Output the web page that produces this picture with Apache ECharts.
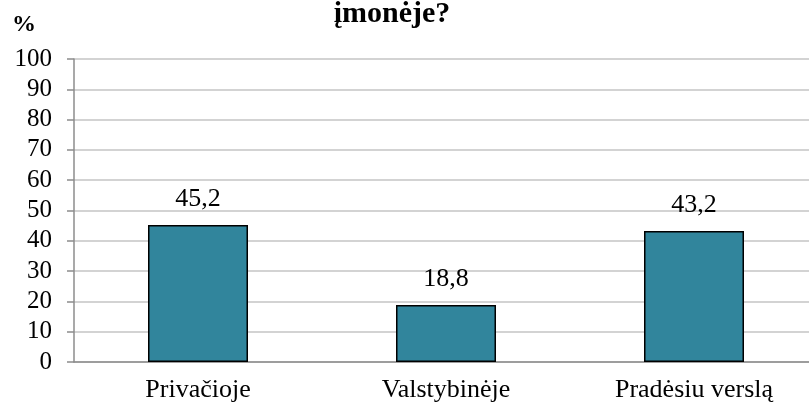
<!DOCTYPE html>
<html>
<head>
<meta charset="utf-8">
<script src="https://cdn.jsdelivr.net/npm/echarts@6/dist/echarts.min.js"></script>
<style>
    html, body { margin: 0; padding: 0; background: #fff; }
    #chart { width: 809px; height: 410px; }
</style>
</head>
<body>
<div id="chart"></div>
<script>
// duomenys
var categories = ['Privačioje', 'Valstybinėje', 'Pradėsiu verslą'];
var values = [45.2, 18.8, 43.2];
var yTicks = [0, 100, 10]; // min, max, interval

var font = '"Liberation Serif", "Times New Roman", serif';

(function () {
    var chart = echarts.init(document.getElementById('chart'));

    var option = {
        animation: false,
        textStyle: { fontFamily: font },
        title: [
            {
                text: 'įmonėje?',
                left: 387,
                top: -6,
                textAlign: 'center',
                textStyle: { fontFamily: font, fontSize: 30, fontWeight: 'bold', color: '#000' }
            },
            {
                text: '%',
                left: 7,
                top: 8,
                textStyle: { fontFamily: font, fontSize: 24, fontWeight: 'bold', color: '#000' }
            }
        ],
        grid: {
            left: 74,
            right: -9,
            top: 59,
            bottom: 48,
            outerBoundsMode: 'none'
        },
        xAxis: {
            type: 'category',
            data: categories,
            axisLine: { show: true, lineStyle: { color: '#8c8c8c', width: 1.5 } },
            axisTick: { show: false },
            axisLabel: {
                margin: 15,
                fontFamily: font,
                fontSize: 26,
                color: '#000'
            }
        },
        yAxis: {
            type: 'value',
            min: yTicks[0],
            max: yTicks[1],
            interval: yTicks[2],
            axisLine: { show: true, lineStyle: { color: '#8c8c8c', width: 1.5 } },
            axisTick: { show: true, length: 7, lineStyle: { color: '#8c8c8c', width: 1.5 } },
            splitLine: { show: true, lineStyle: { color: '#c4c4c4', width: 1.5 } },
            axisLabel: {
                margin: 22,
                fontFamily: font,
                fontSize: 25,
                color: '#000'
            }
        },
        series: [
            {
                type: 'bar',
                data: values,
                barWidth: 100,
                itemStyle: {
                    color: '#31859c',
                    borderColor: '#000',
                    borderWidth: 1.5
                },
                label: {
                    show: true,
                    position: 'top',
                    distance: 13,
                    fontFamily: font,
                    fontSize: 26,
                    color: '#000',
                    formatter: function (p) {
                        return String(p.value).replace('.', ',');
                    }
                }
            }
        ]
    };

    chart.setOption(option);
})();
</script>
</body>
</html>
